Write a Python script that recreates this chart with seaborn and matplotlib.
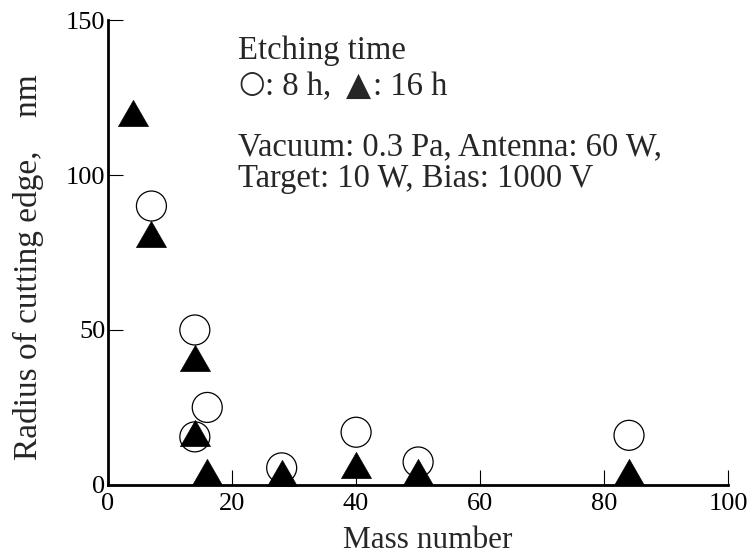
import matplotlib
matplotlib.use("Agg")
import matplotlib.pyplot as plt
import seaborn as sns
import pandas as pd

# Data
mass_8h = [7, 14, 14, 16, 28, 40, 50, 84]
radius_8h = [90, 50, 15.5, 25, 5.5, 17, 7.4, 16]
mass_16h = [4, 7, 14, 14, 16, 28, 40, 50, 84]
radius_16h = [120, 81, 41, 16.7, 4.3, 4, 6.5, 4.3, 4.3]

x_ticks = [0, 20, 40, 60, 80, 100]
y_ticks = [0, 50, 100, 150]

sns.set_theme(style="white")
plt.rcParams['font.family'] = ['Liberation Serif', 'DejaVu Sans']

df8 = pd.DataFrame({"mass": mass_8h, "radius": radius_8h})
df16 = pd.DataFrame({"mass": mass_16h, "radius": radius_16h})

fig = plt.figure(figsize=(7.5, 5.58), dpi=100)
ax = fig.add_axes([0.144, 0.131, 0.827, 0.833])

tri = [(-1.0, -0.87), (1.0, -0.87), (0.0, 0.87), (-1.0, -0.87)]

sns.scatterplot(data=df8, x="mass", y="radius", ax=ax, marker="o", s=466,
                facecolor="none", edgecolor="black", linewidth=0.9,
                clip_on=False, zorder=3)
sns.scatterplot(data=df16, x="mass", y="radius", ax=ax, marker=tri, s=466,
                color="black", edgecolor="black", linewidth=0.5,
                clip_on=False, zorder=4)

ax.set_xlim(0, 100)
ax.set_ylim(0, 150)
ax.set_xticks(x_ticks)
ax.set_yticks(y_ticks)
ax.set_xticklabels([str(v) for v in x_ticks])
ax.set_yticklabels([str(v) for v in y_ticks])

for side in ["top", "right"]:
    ax.spines[side].set_visible(False)
for side in ["left", "bottom"]:
    ax.spines[side].set_linewidth(2.0)
    ax.spines[side].set_color("black")

ax.tick_params(axis="both", direction="in", length=11, width=0.8,
               colors="black", labelsize=19)
ax.tick_params(axis="y", pad=2)
ax.tick_params(axis="x", pad=6)
ax.tick_params(axis="x", bottom=True)
ax.tick_params(axis="y", left=True)

ax.set_xlabel("Mass number", fontsize=22.5)
ax.set_ylabel("Radius of cutting edge,    nm", fontsize=24)
ax.xaxis.set_label_coords(0.516, -0.088)
ax.yaxis.set_label_coords(-0.103, 0.468)

fs = 23.5
def fx(px):
    return (px - 108) / 620.0

ax.text(fx(238), 0.916, "Etching time", transform=ax.transAxes, fontsize=fs,
        va="baseline", ha="left")
ax.text(fx(238), 0.845, "\u25CB", transform=ax.transAxes, fontsize=22,
        va="baseline", ha="left", family="DejaVu Sans", fontweight="bold")
ax.text(fx(265), 0.839, ": 8 h,", transform=ax.transAxes, fontsize=fs,
        va="baseline", ha="left")
ax.text(fx(346), 0.839, "\u25B2", transform=ax.transAxes, fontsize=23.5,
        va="baseline", ha="left", family="DejaVu Sans")
ax.text(fx(373), 0.839, ": 16 h", transform=ax.transAxes, fontsize=fs,
        va="baseline", ha="left")
ax.text(fx(238), 0.710, "Vacuum: 0.3 Pa, Antenna: 60 W,", transform=ax.transAxes,
        fontsize=fs, va="baseline", ha="left")
ax.text(fx(238), 0.641, "Target: 10 W, Bias: 1000 V", transform=ax.transAxes,
        fontsize=fs, va="baseline", ha="left")

fig.savefig("out.png", dpi=100, facecolor="white")
